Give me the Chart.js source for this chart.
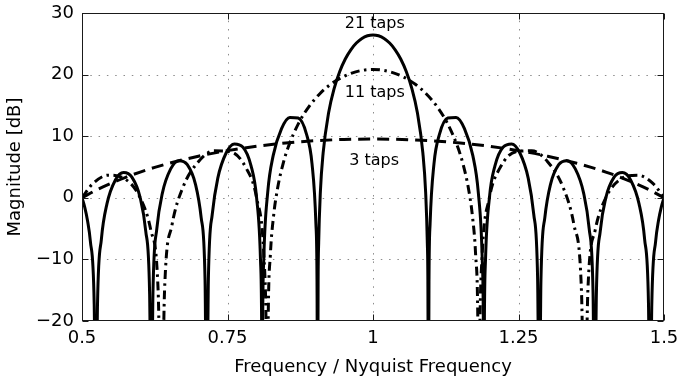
<!DOCTYPE html>
<html><head><meta charset="utf-8">
<script src="https://cdn.jsdelivr.net/npm/chart.js@4.4.1/dist/chart.umd.min.js"></script>
<style>html,body{margin:0;padding:0;background:#fff}#wrap{width:679px;height:381px;position:relative}</style>
</head><body><div id="wrap"><canvas id="c"></canvas></div>
<script>
const xTicks = [0.5, 0.75, 1, 1.25, 1.5];
const xTickLabels = ['0.5', '0.75', '1', '1.25', '1.5'];
const yTicks = [-20, -10, 0, 10, 20, 30];
const yTickLabels = ['\u221220', '\u221210', '0', '10', '20', '30'];
const xTitle = 'Frequency / Nyquist Frequency';
const yTitle = 'Magnitude [dB]';

const freq21 = [0.5,0.50476,0.50952,0.51429,0.52095,0.52381,0.52667,0.53333,0.54286,0.55714,0.57143,0.58571,
0.6,0.60952,0.61619,0.61905,0.6219,0.62857,0.6381,0.65238,0.66667,0.68095,0.69524,
0.70476,0.71143,0.71429,0.71714,0.72381,0.73333,0.74762,0.7619,0.77619,0.79048,
0.8,0.80667,0.80857,0.80952,0.81048,0.81238,0.81905,0.82857,0.84286,0.85714,0.87143,0.88571,0.89524,
0.9019,0.90381,0.90476,0.90571,0.90667,0.90952,0.91429,0.92381,0.93333,0.94286,0.95238,0.9619,0.97143,0.98095,0.99048,
1.0,
1.00952,1.01905,1.02857,1.0381,1.04762,1.05714,1.06667,1.07619,1.08571,1.09048,1.09333,1.09429,1.09524,1.09619,1.0981,
1.10476,1.11429,1.12857,1.14286,1.15714,1.17143,1.18095,1.18762,1.18952,1.19048,1.19143,1.19333,
1.2,1.20952,1.22381,1.2381,1.25238,1.26667,1.27619,1.28286,1.28571,1.28857,1.29524,
1.30476,1.31905,1.33333,1.34762,1.3619,1.37143,1.3781,1.38095,1.38381,1.39048,
1.4,1.41429,1.42857,1.44286,1.45714,1.46667,1.47333,1.47619,1.47905,1.48571,1.49048,1.49524,1.5];
const mag21 = [0.00,-1.54,-3.72,-6.99,-17.23,-40,-17.14,-6.71,-0.99,2.86,4.10,3.35,
0.00,-5.40,-15.60,-40,-15.49,-5.02,0.76,4.69,6.02,5.37,2.11,
-3.21,-13.36,-40,-13.20,-2.67,3.19,7.27,8.75,8.26,5.19,
0.00,-10.04,-19.49,-40,-19.41,-9.79,0.84,6.88,11.24,13.05,12.95,10.34,5.51,
-4.25,-13.61,-40,-13.44,-7.33,0.86,7.24,13.84,17.77,20.51,22.53,24.03,25.12,25.87,26.30,
26.44,
26.30,25.87,25.12,24.03,22.53,20.51,17.77,13.84,7.24,0.86,-7.33,-13.44,-40,-13.61,-4.25,
5.51,10.34,12.95,13.05,11.24,6.88,0.84,-9.79,-19.41,-40,-19.49,-10.04,
0.00,5.19,8.26,8.75,7.27,3.19,-2.67,-13.20,-40,-13.36,-3.21,
2.11,5.37,6.02,4.69,0.76,-5.02,-15.49,-40,-15.60,-5.40,
0.00,3.35,4.10,2.86,-0.99,-6.71,-17.14,-40,-17.23,-6.99,-3.72,-1.54,0.00];

const freq11 = [0.5,0.51818,0.54545,0.57273,0.6,0.61818,0.63091,0.63636,0.64182,0.65455,
0.67273,0.7,0.72727,0.75455,0.78182,0.8,0.81273,0.81636,0.81818,0.82,
0.82364,0.82909,0.83636,0.84545,0.85455,0.87273,0.89091,0.90909,0.92727,0.94545,0.96364,0.98182,1.0,
1.01818,1.03636,1.05455,1.07273,1.09091,1.10909,1.12727,1.14545,1.15455,1.16364,
1.17091,1.17636,1.18,1.18182,1.18364,1.18727,1.2,1.21818,1.24545,1.27273,
1.3,1.32727,1.34545,1.35818,1.36364,1.36909,1.38182,1.4,1.42727,1.45455,1.48182,1.5];
const mag11 = [0,2.26,3.68,3.13,0,-5.23,-15.30,-40,-15.07,-4.46,
1.55,5.86,7.63,7.49,4.85,0,-9.78,-21.10,-40,-18.97,
-9.27,-3.02,1.70,5.52,8.28,12.20,14.93,16.94,18.43,19.51,20.25,20.69,20.83,
20.69,20.25,19.51,18.43,16.94,14.93,12.20,8.28,5.52,1.70,
-3.02,-9.27,-18.97,-40,-21.10,-9.78,0,4.85,7.49,7.63,
5.86,1.55,-4.46,-15.07,-40,-15.30,-5.23,0,3.13,3.68,2.26,0];

const freq3 = [0.5,0.525,0.55,0.575,0.6,0.625,0.65,0.7,0.75,0.8,0.85,0.9,0.95,1.0,
1.05,1.1,1.15,1.2,1.25,1.3,1.35,1.375,1.4,1.425,1.45,1.475,1.5];
const mag3 = [0,1.27,2.36,3.33,4.18,4.94,5.61,6.75,7.66,8.36,8.89,9.26,9.47,9.54,
9.47,9.26,8.89,8.36,7.66,6.75,5.61,4.94,4.18,3.33,2.36,1.27,0];

const seriesNames = ['21 taps', '11 taps', '3 taps'];
const labelFreq = [1.003, 1.003, 1.002];
const labelMag = [27.5, 16.3, 5.3];

const FONT = "'DejaVu Sans', 'Liberation Sans', Arial, sans-serif";
const toPts = (xs, ys) => xs.map((v, i) => ({x: v, y: ys[i]}));

const decor = {
  id: 'decor',
  beforeDatasetsDraw(chart) {
    const {ctx, chartArea: a, scales: {x, y}} = chart;
    ctx.save();
    ctx.strokeStyle = '#8c8c8c';
    ctx.lineWidth = 1;
    ctx.setLineDash([1.5, 6.8]);
    xTicks.forEach(v => {
      const px = Math.round(x.getPixelForValue(v)) + 0.5;
      if (px < a.left + 2 || px > a.right - 2) return;
      ctx.beginPath(); ctx.moveTo(px, a.bottom); ctx.lineTo(px, a.top); ctx.stroke();
    });
    yTicks.forEach(v => {
      const py = Math.round(y.getPixelForValue(v)) + 0.5;
      if (py < a.top + 2 || py > a.bottom - 2) return;
      ctx.beginPath(); ctx.moveTo(a.left, py); ctx.lineTo(a.right, py); ctx.stroke();
    });
    ctx.restore();
  },
  afterDatasetsDraw(chart) {
    const {ctx, chartArea: a, scales: {x, y}} = chart;
    ctx.save();
    ctx.strokeStyle = '#1a1a1a';
    ctx.lineWidth = 1;
    ctx.setLineDash([]);
    const L = Math.round(a.left) + 0.5, R = Math.round(a.right) - 0.5;
    const T = Math.round(a.top) + 0.5, B = Math.round(a.bottom) - 0.5;
    ctx.strokeRect(L, T, R - L, B - T);
    const tl = 6;
    ctx.beginPath();
    xTicks.forEach(v => {
      const px = Math.round(x.getPixelForValue(v)) + 0.5;
      ctx.moveTo(px, B); ctx.lineTo(px, B - tl);
      ctx.moveTo(px, T); ctx.lineTo(px, T + tl);
    });
    yTicks.forEach(v => {
      const py = Math.round(y.getPixelForValue(v)) + 0.5;
      ctx.moveTo(L, py); ctx.lineTo(L + tl, py);
      ctx.moveTo(R, py); ctx.lineTo(R - tl, py);
    });
    ctx.stroke();
    // series labels
    ctx.fillStyle = '#000';
    ctx.font = '16px ' + FONT;
    ctx.textAlign = 'center';
    ctx.textBaseline = 'alphabetic';
    seriesNames.forEach((t, i) => {
      ctx.fillText(t, x.getPixelForValue(labelFreq[i]), y.getPixelForValue(labelMag[i]));
    });
    // axis titles
    ctx.font = '18px ' + FONT;
    ctx.fillText(xTitle, (a.left + a.right) / 2, 371.5);
    ctx.translate(19.5, (a.top + a.bottom) / 2);
    ctx.rotate(-Math.PI / 2);
    ctx.fillText(yTitle, 0, 0);
    ctx.restore();
  }
};

new Chart(document.getElementById('c'), {
  type: 'line',
  data: {
    datasets: [
      {label: seriesNames[2], data: toPts(freq3, mag3), borderColor: '#000', borderWidth: 3,
       borderDash: [12, 7], pointRadius: 0, cubicInterpolationMode: 'monotone', clip: 0, fill: false},
      {label: seriesNames[1], data: toPts(freq11, mag11), borderColor: '#000', borderWidth: 3,
       borderDash: [9, 4.5, 2.5, 4.5], pointRadius: 0, cubicInterpolationMode: 'monotone', clip: 0, fill: false},
      {label: seriesNames[0], data: toPts(freq21, mag21), borderColor: '#000', borderWidth: 3,
       pointRadius: 0, cubicInterpolationMode: 'monotone', clip: 0, fill: false}
    ]
  },
  options: {
    responsive: true, maintainAspectRatio: false, animation: false, events: [],
    layout: {padding: {top: 13, right: 15, left: 0, bottom: 0}},
    plugins: {legend: {display: false}, tooltip: {enabled: false}},
    scales: {
      x: {
        type: 'linear', min: 0.5, max: 1.5,
        grid: {display: false, drawTicks: false}, border: {display: false},
        afterBuildTicks: s => { s.ticks = xTicks.map(v => ({value: v})); },
        afterFit: s => { s.height = 60; s.paddingLeft = 0; s.paddingRight = 0; },
        ticks: {padding: 7, maxRotation: 0, autoSkip: false, color: '#000',
          font: {family: FONT, size: 18}, callback: (v, i) => xTickLabels[i]}
      },
      y: {
        type: 'linear', min: -20, max: 30,
        grid: {display: false, drawTicks: false}, border: {display: false},
        afterBuildTicks: s => { s.ticks = yTicks.map(v => ({value: v})); },
        afterFit: s => { s.width = 82; s.paddingTop = 0; s.paddingBottom = 0; },
        ticks: {padding: 8, autoSkip: false, color: '#000',
          font: {family: FONT, size: 18}, callback: (v, i) => yTickLabels[i]}
      }
    }
  },
  plugins: [decor]
});
</script></body></html>
